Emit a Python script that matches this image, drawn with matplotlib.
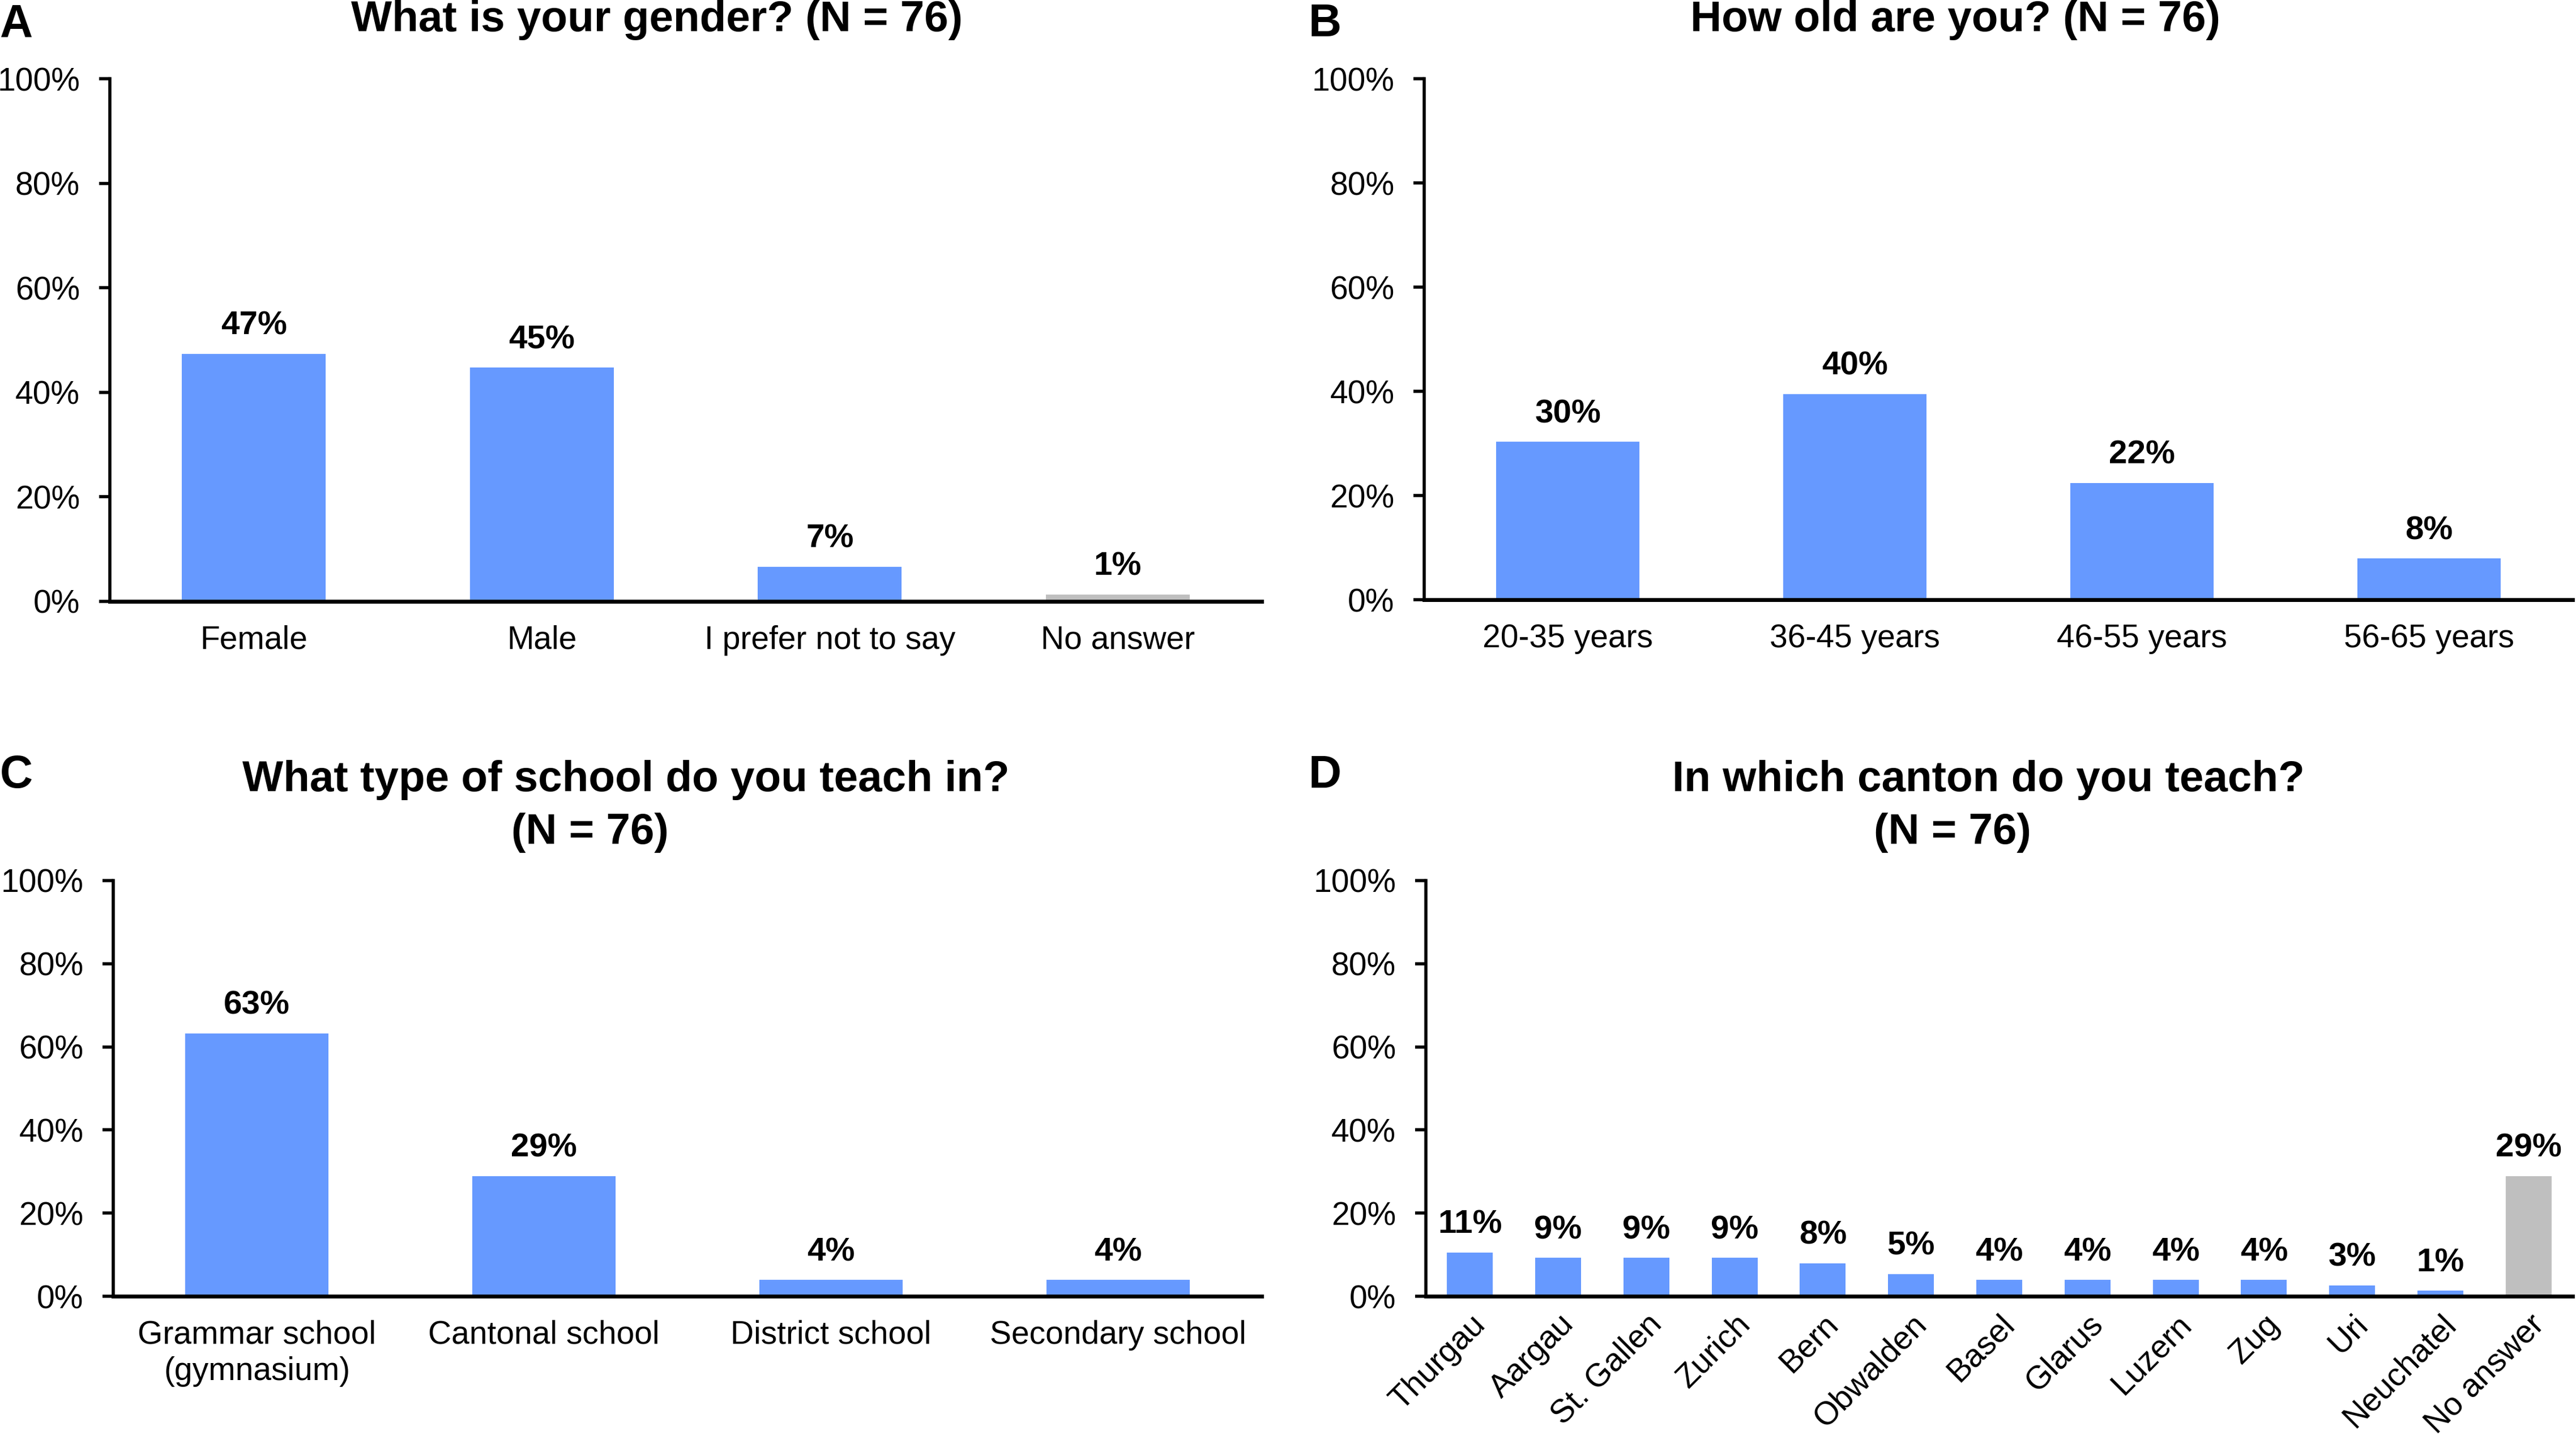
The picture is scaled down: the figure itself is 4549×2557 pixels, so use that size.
import matplotlib
matplotlib.use("Agg")
import matplotlib.pyplot as plt

plt.rcParams['font.family'] = ['Liberation Sans', 'DejaVu Sans']

# ---- data ----
gender_cats = ["Female", "Male", "I prefer not to say", "No answer"]
gender_vals = [47.4, 44.7, 6.6, 1.3]
gender_labels = ["47%", "45%", "7%", "1%"]
gender_gray = [False, False, False, True]

age_cats = ["20-35 years", "36-45 years", "46-55 years", "56-65 years"]
age_vals = [30.3, 39.5, 22.4, 7.9]
age_labels = ["30%", "40%", "22%", "8%"]
age_gray = [False, False, False, False]

school_cats = ["Grammar school\n(gymnasium)", "Cantonal school", "District school", "Secondary school"]
school_vals = [63.2, 28.9, 3.9, 3.9]
school_labels = ["63%", "29%", "4%", "4%"]
school_gray = [False, False, False, False]

canton_cats = ["Thurgau", "Aargau", "St. Gallen", "Zurich", "Bern", "Obwalden", "Basel",
               "Glarus", "Luzern", "Zug", "Uri", "Neuchatel", "No answer"]
canton_vals = [10.5, 9.2, 9.2, 9.2, 7.9, 5.3, 3.9, 3.9, 3.9, 3.9, 2.6, 1.3, 28.9]
canton_labels = ["11%", "9%", "9%", "9%", "8%", "5%", "4%", "4%", "4%", "4%", "3%", "1%", "29%"]
canton_gray = [False] * 12 + [True]

yticks = [0, 20, 40, 60, 80, 100]

BLUE = "#6699FF"
GRAY = "#BFBFBF"

W, H = 4549, 2557
DPI = 200
fig = plt.figure(figsize=(W / DPI, H / DPI), dpi=DPI)


def panel(rect, cats, vals, labels, gray, rotate=False, tick_fs=20.5, val_fs=21, width=0.5):
    ax = fig.add_axes(rect)
    x = list(range(len(cats)))
    colors = [GRAY if g else BLUE for g in gray]
    ax.bar(x, vals, width=width, color=colors, zorder=2)
    ax.set_xlim(-0.5, len(cats) - 0.5)
    ax.set_ylim(0, 100)
    ax.set_yticks(yticks)
    ax.set_yticklabels([f"{t}%" for t in yticks], fontsize=20.5)
    ax.set_xticks(x)
    if rotate:
        ax.set_xticklabels(cats, fontsize=tick_fs, rotation=45, ha='right', rotation_mode='anchor')
        ax.tick_params(axis='x', length=0, pad=8)
    else:
        ax.set_xticklabels(cats, fontsize=tick_fs, linespacing=1.25)
        ax.tick_params(axis='x', length=0, pad=15)
    ax.tick_params(axis='y', length=7, width=2, direction='out', pad=12)
    for s in ['top', 'right']:
        ax.spines[s].set_visible(False)
    ax.spines['left'].set_linewidth(2)
    ax.spines['bottom'].set_linewidth(2.5)
    ax.spines['bottom'].set_zorder(3)
    for xi, v, lab in zip(x, vals, labels):
        ax.annotate(lab, (xi, v), xytext=(0, 8), textcoords='offset points',
                    ha='center', va='bottom', fontsize=val_fs, fontweight='bold')
    return ax


panel([0.0426, 0.5847, 0.4472, 0.3609], gender_cats, gender_vals, gender_labels, gender_gray)
panel([0.5529, 0.5858, 0.4458, 0.3598], age_cats, age_vals, age_labels, age_gray)
panel([0.0440, 0.1048, 0.4458, 0.2871], school_cats, school_vals, school_labels, school_gray)
panel([0.5535, 0.1048, 0.4452, 0.2871], canton_cats, canton_vals, canton_labels, canton_gray,
      rotate=True, width=0.52)

TFS = 27.5
fig.text(0.2551, 0.986, "What is your gender? (N = 76)", ha='center', va='center', fontsize=TFS, fontweight='bold')
fig.text(0.759, 0.986, "How old are you? (N = 76)", ha='center', va='center', fontsize=TFS, fontweight='bold')
fig.text(0.243, 0.4614, "What type of school do you teach in?", ha='center', va='center', fontsize=TFS, fontweight='bold')
fig.text(0.229, 0.425, "(N = 76)", ha='center', va='center', fontsize=TFS, fontweight='bold')
fig.text(0.772, 0.4614, "In which canton do you teach?", ha='center', va='center', fontsize=TFS, fontweight='bold')
fig.text(0.758, 0.425, "(N = 76)", ha='center', va='center', fontsize=TFS, fontweight='bold')

LFS = 29
fig.text(0.0, 0.998, "A", ha='left', va='top', fontsize=LFS, fontweight='bold')
fig.text(0.508, 0.998, "B", ha='left', va='top', fontsize=LFS, fontweight='bold')
fig.text(0.0, 0.479, "C", ha='left', va='top', fontsize=LFS, fontweight='bold')
fig.text(0.508, 0.479, "D", ha='left', va='top', fontsize=LFS, fontweight='bold')

fig.savefig("out.png", dpi=DPI)
